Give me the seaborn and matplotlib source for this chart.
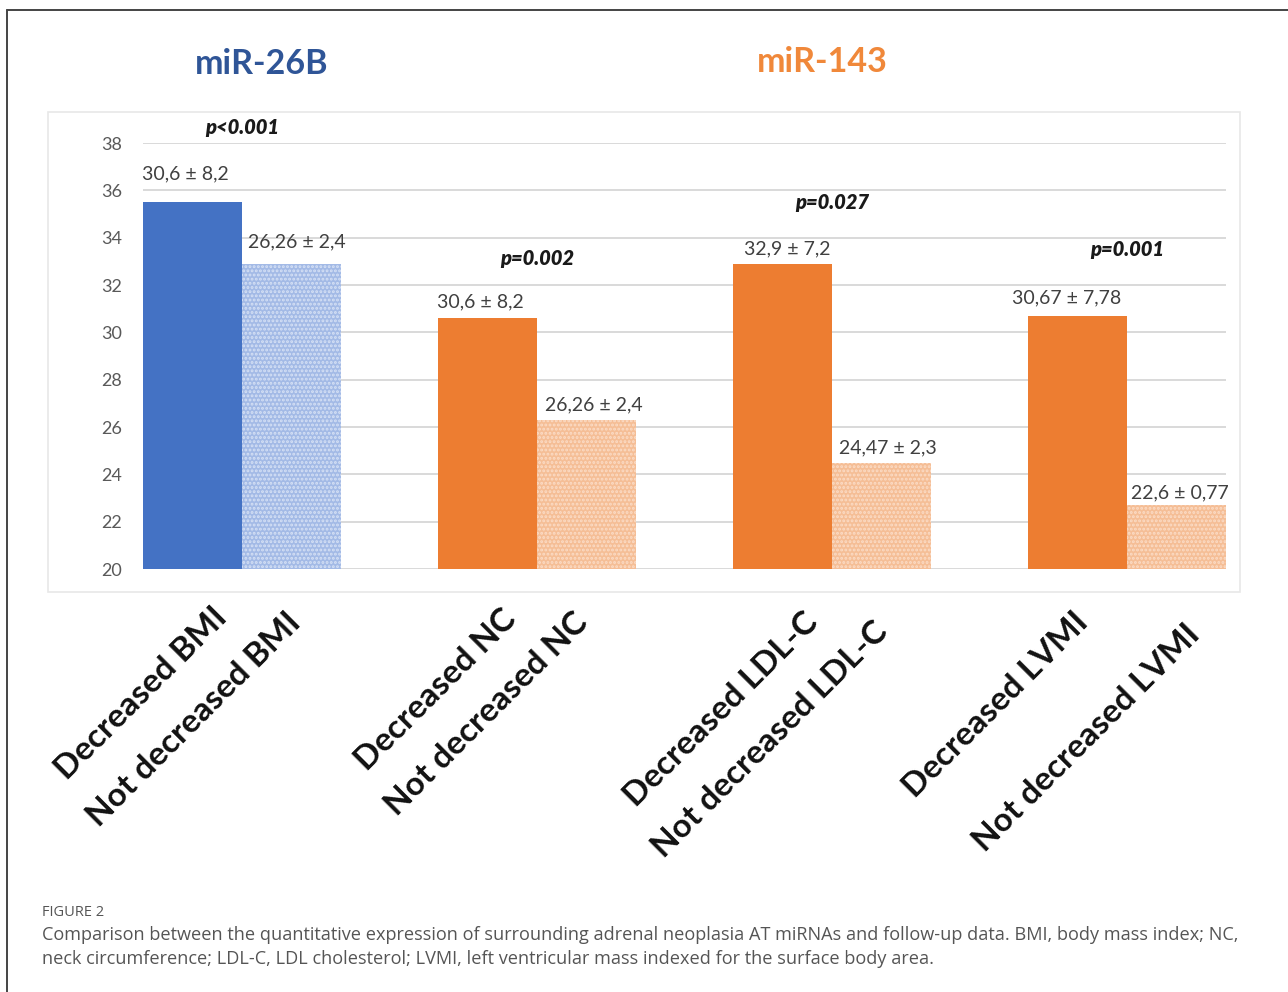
import matplotlib
matplotlib.use("Agg")
import matplotlib.pyplot as plt
import numpy as np
import pandas as pd
import seaborn as sns
from matplotlib.transforms import ScaledTranslation
from matplotlib.lines import Line2D
from matplotlib.patches import Rectangle

# ---------------- data ----------------
groups = ["BMI", "NC", "LDL-C", "LVMI"]
status_levels = ["Decreased", "Not decreased"]
decreased = [35.5, 30.6, 32.9, 30.7]
not_decreased = [32.9, 26.3, 24.5, 22.7]
bar_labels = ["Decreased BMI", "Not decreased BMI",
              "Decreased NC", "Not decreased NC",
              "Decreased LDL-C", "Not decreased LDL-C",
              "Decreased LVMI", "Not decreased LVMI"]
value_texts = ["30,6 \u00b1 8,2", "26,26 \u00b1 2,4",
               "30,6 \u00b1 8,2", "26,26 \u00b1 2,4",
               "32,9 \u00b1 7,2", "24,47 \u00b1 2,3",
               "30,67 \u00b1 7,78", "22,6 \u00b1 0,77"]
p_texts = ["p<0.001", "p=0.002", "p=0.027", "p=0.001"]
p_levels = [38.65, 33.1, 35.5, 33.5]
yticks = list(range(20, 39, 2))
titles = ["miR-26B", "miR-143"]
caption_head = "FIGURE 2"
caption_lines = [
    "Comparison between the quantitative expression of surrounding adrenal neoplasia AT miRNAs and follow-up data. BMI, body mass index; NC,",
    "neck circumference; LDL-C, LDL cholesterol; LVMI, left ventricular mass indexed for the surface body area.",
]

df = pd.DataFrame({
    "group": groups * 2,
    "status": [status_levels[0]] * 4 + [status_levels[1]] * 4,
    "value": decreased + not_decreased,
})

# ---------------- style ----------------
sns.set_style("white")
plt.rcParams["font.family"] = ["Lato", "DejaVu Sans"]
plt.rcParams["hatch.linewidth"] = 1.4

W, H = 1288, 992
fig = plt.figure(figsize=(W / 100, H / 100), dpi=100)
fig.patch.set_facecolor("white")

ax_left, ax_right, ax_top, ax_bottom = 143, 1226, 143, 569
ax = fig.add_axes([ax_left / W, 1 - ax_bottom / H,
                   (ax_right - ax_left) / W, (ax_bottom - ax_top) / H])

sns.barplot(data=df, x="group", y="value", hue="status", order=groups,
            hue_order=status_levels, width=0.67, errorbar=None,
            saturation=1, legend=False, ax=ax,
            palette=["#4472C4", "#A9BFE8"])

ax.set_ylim(20, 38)
ax.set_xlim(-0.335, 3.335)
ax.set_yticks(yticks)
ax.set_yticklabels([str(t) for t in yticks])
ax.yaxis.grid(True, color="#D9D9D9", lw=1.4)
ax.set_axisbelow(True)
for s in ax.spines.values():
    s.set_visible(False)
ax.set_xlabel("")
ax.set_ylabel("")
ax.tick_params(axis="y", length=0, pad=15, labelsize=13, labelcolor="#595959")

# colour the bars
bars = sorted([p for p in ax.patches if p.get_width() > 0], key=lambda p: p.get_x())
face = ["#4472C4", "#A3BAE6", "#ED7D31", "#F5BE96",
        "#ED7D31", "#F5BE96", "#ED7D31", "#F5BE96"]
hatch_col = [None, "#D6E1F5", None, "#FBDCC6", None, "#FBDCC6", None, "#FBDCC6"]
for b, fc, hc in zip(bars, face, hatch_col):
    b.set_facecolor(fc)
    b.set_linewidth(0)
    if hc is not None:
        b.set_hatch("....")
        b.set_edgecolor(hc)
    else:
        b.set_edgecolor(fc)

# value labels
val_off = [(-7, 28), (6, 22), (-7, 16), (7, 15), (5, 15), (6, 15), (-11, 18), (3, 12)]
for b, txt, (dx, dy) in zip(bars, value_texts, val_off):
    cx = b.get_x() + b.get_width() / 2
    ax.annotate(txt, xy=(cx, b.get_height()), xytext=(dx, dy),
                textcoords="offset pixels", ha="center", va="center",
                fontsize=14, color="#404040", annotation_clip=False)

# p values
for i, (pt, py) in enumerate(zip(p_texts, p_levels)):
    ax.text(i, py, pt, ha="center", va="center", fontsize=14.5,
            fontweight="heavy", fontstyle="italic", color="#1a1a1a", clip_on=False)

# x tick labels (one per bar)
centers = [b.get_x() + b.get_width() / 2 for b in bars]
ax.set_xticks(centers)
ax.set_xticklabels(bar_labels)
ax.tick_params(axis="x", length=0, pad=0)
lab_off = [(19, 33), (-6, 38), (13, 35), (-14, 38), (20, 38), (-9, 47), (-5, 38), (8, 50)]
for lab, (dx, dy) in zip(ax.get_xticklabels(), lab_off):
    lab.set_rotation(45)
    lab.set_rotation_mode("anchor")
    lab.set_ha("right")
    lab.set_va("top")
    lab.set_fontsize(24)
    lab.set_fontweight("bold")
    lab.set_color("#111111")
    lab.set_transform(lab.get_transform() +
                      ScaledTranslation(dx / 100, -dy / 100, fig.dpi_scale_trans))

# titles
fig.text(262 / W, 1 - 64 / H, titles[0], ha="center", va="center",
         fontsize=24.5, fontweight="bold", color="#2F5597")
fig.text(822 / W, 1 - 62 / H, titles[1], ha="center", va="center",
         fontsize=24.5, fontweight="bold", color="#F0883A")

# faint chart-area box
fig.add_artist(Rectangle((48 / W, 1 - 592 / H), (1240 - 48) / W, (592 - 112) / H,
                         transform=fig.transFigure, fill=False,
                         edgecolor="#E8E8E8", lw=1.2))

# outer frame (top and left)
fig.add_artist(Line2D([7 / W, 1], [1 - 10 / H, 1 - 10 / H],
                      transform=fig.transFigure, color="#444444", lw=1.4))
fig.add_artist(Line2D([7 / W, 7 / W], [0, 1 - 10 / H],
                      transform=fig.transFigure, color="#444444", lw=1.4))

# caption
fig.text(42 / W, 1 - 912 / H, caption_head, ha="left", va="center",
         fontsize=10.5, color="#555555", family=["Open Sans", "DejaVu Sans"])
for k, line in enumerate(caption_lines):
    fig.text(42 / W, 1 - (935 + 24 * k) / H, line, ha="left", va="center",
             fontsize=13.1, color="#555555", family=["Open Sans", "DejaVu Sans"])

fig.savefig("out.png", dpi=100, facecolor="white")
